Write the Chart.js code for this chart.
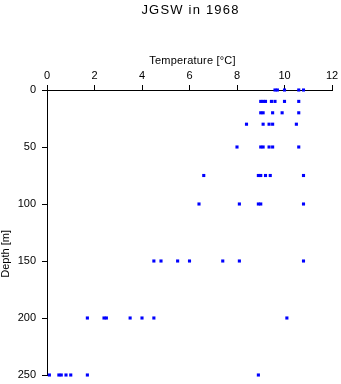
<!DOCTYPE html>
<html>
<head>
<meta charset="utf-8">
<script src="https://cdn.jsdelivr.net/npm/chart.js@4/dist/chart.umd.min.js"></script>
<style>
  html, body { margin: 0; padding: 0; background: #fff; }
  #wrap { width: 341px; height: 384px; }
</style>
</head>
<body>
<div id="wrap"><canvas id="c" width="341" height="384"></canvas></div>
<script>
// Sampling depths (m) and the temperatures (°C) observed at each one
const depths = [0, 10, 20, 30, 50, 75, 100, 150, 200, 250];
const tempAt0m   = [9.6, 9.7, 10.0, 10.6, 10.8];
const tempAt10m  = [9.0, 9.1, 9.2, 9.45, 9.6, 10.0, 10.6];
const tempAt20m  = [9.0, 9.1, 9.5, 9.9, 10.6];
const tempAt30m  = [8.4, 9.1, 9.35, 9.5, 10.5];
const tempAt50m  = [8.0, 9.0, 9.1, 9.35, 9.5, 10.6];
const tempAt75m  = [6.6, 8.9, 9.0, 9.2, 9.4, 10.8];
const tempAt100m = [6.4, 8.1, 8.9, 9.0, 10.8];
const tempAt150m = [4.5, 4.8, 5.5, 6.0, 7.4, 8.1, 10.8];
const tempAt200m = [1.7, 2.4, 2.5, 3.5, 4.0, 4.5, 10.1];
const tempAt250m = [0.1, 0.5, 0.6, 0.8, 1.0, 1.7, 8.9];

// Axis tick values
const tempTicks = [0, 2, 4, 6, 8, 10, 12];
const depthTicks = [0, 50, 100, 150, 200, 250];

const titleText = 'JGSW in 1968';
const xTitleText = 'Temperature [°C]';
const yTitleText = 'Depth [m]';

const profiles = [tempAt0m, tempAt10m, tempAt20m, tempAt30m, tempAt50m,
                  tempAt75m, tempAt100m, tempAt150m, tempAt200m, tempAt250m];
const points = [];
profiles.forEach((temps, i) => {
  temps.forEach(t => points.push({ x: t, y: depths[i] }));
});

const FONT = '"Liberation Sans", Arial, Helvetica, sans-serif';

// Draws the chart title and the two axis titles
const titles = {
  id: 'titles',
  afterDraw(chart) {
    const ctx = chart.ctx;
    const a = chart.chartArea;
    ctx.save();
    ctx.fillStyle = '#000';
    ctx.textAlign = 'center';
    ctx.textBaseline = 'middle';

    ctx.font = '13px ' + FONT;
    ctx.letterSpacing = '1.2px';
    ctx.fillText(titleText, (a.left + a.right) / 2 + 1, 10.5);

    ctx.font = '11px ' + FONT;
    ctx.letterSpacing = '0.2px';
    ctx.fillText(xTitleText, (a.left + a.right) / 2 + 3, 61);

    ctx.letterSpacing = '0px';
    ctx.translate(6, a.top + (a.bottom - a.top) * 0.575);
    ctx.rotate(-Math.PI / 2);
    ctx.fillText(yTitleText, 0, 0);
    ctx.restore();
  }
};

const axisCommon = {
  grid: { drawOnChartArea: false, drawTicks: true, tickLength: 5, color: '#000', lineWidth: 1 },
  border: { display: true, color: '#000', width: 1 }
};

new Chart(document.getElementById('c'), {
  type: 'scatter',
  data: {
    datasets: [{
      data: points,
      pointStyle: 'rect',
      pointRadius: 2.2,
      pointBorderWidth: 0,
      backgroundColor: '#0000ff',
      borderColor: '#0000ff',
      clip: false
    }]
  },
  options: {
    responsive: false,
    animation: false,
    layout: { padding: { top: 0, left: 0, right: 9, bottom: 9 } },
    plugins: { legend: { display: false }, tooltip: { enabled: false }, title: { display: false } },
    scales: {
      x: {
        ...axisCommon,
        type: 'linear',
        position: 'top',
        min: tempTicks[0],
        max: tempTicks[tempTicks.length - 1],
        afterBuildTicks: s => { s.ticks = tempTicks.map(v => ({ value: v })); },
        ticks: { color: '#000', font: { size: 11, family: FONT }, padding: 2, maxRotation: 0 },
        afterFit: s => { s.height = 90; s.paddingLeft = 0; s.paddingRight = 0; }
      },
      y: {
        ...axisCommon,
        type: 'linear',
        reverse: true,
        min: depthTicks[0],
        max: depthTicks[depthTicks.length - 1],
        afterBuildTicks: s => { s.ticks = depthTicks.map(v => ({ value: v })); },
        ticks: { color: '#000', font: { size: 11, family: FONT }, padding: 6 },
        afterFit: s => { s.width = 47; s.paddingTop = 0; s.paddingBottom = 0; }
      }
    }
  },
  plugins: [titles]
});
</script>
</body>
</html>
